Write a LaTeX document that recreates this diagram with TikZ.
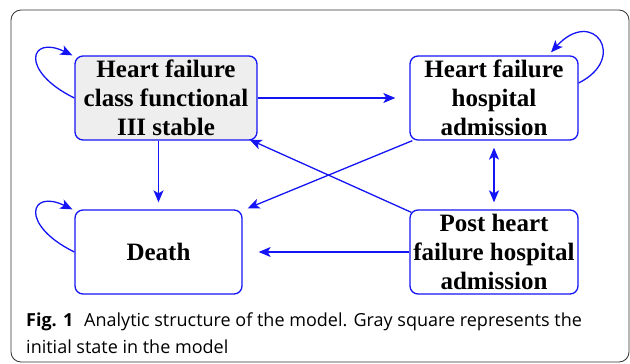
\documentclass[tikz,border=0pt]{standalone}
\usepackage{fontspec}
\usetikzlibrary{arrows.meta}
\newfontfamily\statefont{Liberation Serif}
\newfontfamily\capfont{Open Sans}

\definecolor{edgeblue}{RGB}{20,20,245}
\definecolor{initgray}{RGB}{238,238,238}

\tikzset{
  >={Stealth[length=12pt,width=10pt,inset=3pt]},
  state/.style={draw=edgeblue, line width=1.3pt, rounded corners=8pt,
    minimum height=84pt, align=center, inner sep=0pt,
    font=\statefont\bfseries\fontsize{25}{29}\selectfont},
  trans/.style={draw=edgeblue, line width=1.3pt, ->},
}

\begin{document}
\begin{tikzpicture}[x=1pt, y=-1pt]
\useasboundingbox (0,0) rectangle (630,364);
\draw[black!80, line width=0.8pt, rounded corners=10pt] (11,10) rectangle (629,362);

% states
\node[state, fill=initgray, minimum width=182pt] (hfc) at (166,98)
  {Heart failure\\class functional\\III stable};
\node[state, minimum width=168pt] (hfh) at (494,98)
  {Heart failure\\hospital\\admission};
\node[state, minimum width=167pt] (dth) at (158.5,252) {Death};
\node[state, minimum width=168pt] (post) at (494,252)
  {Post heart\\failure hospital\\admission};

% transitions
\draw[trans] (hfc.east) -- ([xshift=-14pt]hfh.west);
\draw[trans] (dth.north |- hfc.south) -- ([yshift=7pt]dth.north);
\draw[trans] ([xshift=3pt]hfh.south west) -- ([xshift=5pt,yshift=1pt]dth.north east);
\draw[trans] ([xshift=2pt,yshift=-3pt]post.north west) -- ([xshift=-8pt,yshift=1pt]hfc.south east);
\draw[trans, <->] ([yshift=-7pt]hfh.south) -- ([yshift=7pt]post.north);
\draw[trans] (post.west) -- ([xshift=16pt]dth.east);

% self loops
\draw[trans] (hfc.west) .. controls +(-55,-27) and +(-43,-21) .. ([xshift=-2pt]hfc.north west);
\draw[trans] (dth.west) .. controls +(-55,-27) and +(-43,-21) .. ([xshift=-2pt]dth.north west);
\draw[trans] ([yshift=15pt]hfh.east) .. controls +(50,-25) and +(42,-46) .. ([xshift=57pt,yshift=3pt]hfh.north);

% caption
\node[anchor=base west, align=left, inner sep=0pt,
  font=\capfont\fontsize{18}{27}\selectfont] (caption) at (26,353)
  {\textbf{Fig. 1}\hspace{0.6em}Analytic structure of the model. Gray square represents the\\
   initial state in the model};
\end{tikzpicture}
\end{document}
